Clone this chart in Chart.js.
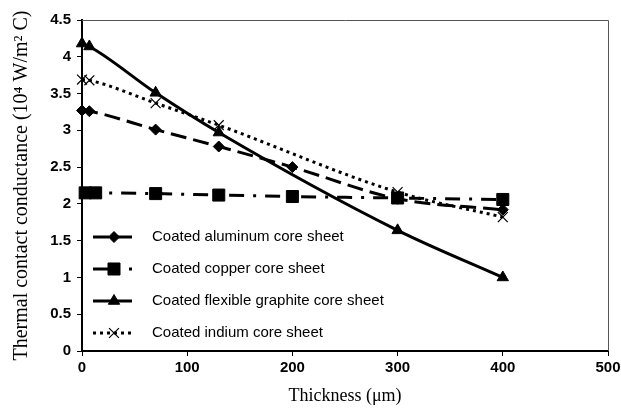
<!DOCTYPE html>
<html>
<head>
<meta charset="utf-8">
<script src="https://cdn.jsdelivr.net/npm/chart.js@4.4.0/dist/chart.umd.min.js"></script>
<style>
  html, body { margin: 0; padding: 0; background: #fff; }
  #wrap { width: 621px; height: 413px; position: relative; }
</style>
</head>
<body>
<div id="wrap"><canvas id="c" width="621" height="413"></canvas></div>
<script>
// ---- Data ----
const seriesNames = [
  'Coated aluminum core sheet',
  'Coated copper core sheet',
  'Coated flexible graphite core sheet',
  'Coated indium core sheet'
];
const xAluminum = [0, 7, 70, 130, 200, 300, 400];
const yAluminum = [3.27, 3.26, 3.01, 2.78, 2.50, 2.07, 1.92];
const xCopper   = [3, 13, 70, 130, 200, 300, 400];
const yCopper   = [2.15, 2.15, 2.14, 2.12, 2.10, 2.08, 2.06];
const xGraphite = [0, 7, 70, 130, 300, 400];
const yGraphite = [4.18, 4.14, 3.51, 2.97, 1.64, 1.00];
const xIndium   = [0, 7, 70, 130, 300, 400];
const yIndium   = [3.69, 3.68, 3.37, 3.07, 2.16, 1.82];
const xTickValues = [0, 100, 200, 300, 400, 500];
const yTickValues = [0, 0.5, 1, 1.5, 2, 2.5, 3, 3.5, 4, 4.5];
const xTitle = 'Thickness (\u03bcm)';
const yTitle = 'Thermal contact conductance (10\u2074 W/m\u00b2 C)';

function pts(xs, ys) { return xs.map((x, i) => ({ x: x, y: ys[i] })); }

const sansFont = '"Liberation Sans", Arial, Helvetica, sans-serif';
const serifFont = '"Liberation Serif", "Times New Roman", serif';

const datasets = [
  { label: seriesNames[0], data: pts(xAluminum, yAluminum), borderDash: [16, 7],
    pointStyle: 'rectRot', pointRadius: 5.5 },
  { label: seriesNames[1], data: pts(xCopper, yCopper), borderDash: [15, 9, 3, 9],
    pointStyle: 'rect', pointRadius: 8.5 },
  { label: seriesNames[2], data: pts(xGraphite, yGraphite), borderDash: [],
    pointStyle: 'triangle', pointRadius: 6.5 },
  { label: seriesNames[3], data: pts(xIndium, yIndium), borderDash: [3, 4],
    pointStyle: 'crossRot', pointRadius: 7, pointBorderWidth: 1.2 }
].map(d => Object.assign({
  borderColor: '#000', backgroundColor: '#000',
  pointBackgroundColor: '#000', pointBorderColor: '#000',
  borderWidth: 3, pointBorderWidth: 1, pointHoverRadius: 0,
  cubicInterpolationMode: 'monotone', clip: false, fill: false
}, d));

// Plot frame (top & right light border)
const framePlugin = {
  id: 'frame',
  beforeDatasetsDraw(chart) {
    const a = chart.chartArea, ctx = chart.ctx;
    ctx.save();
    ctx.strokeStyle = '#555';
    ctx.lineWidth = 1;
    ctx.beginPath();
    ctx.moveTo(a.left, a.top + 0.5);
    ctx.lineTo(a.right + 0.5, a.top + 0.5);
    ctx.lineTo(a.right + 0.5, a.bottom);
    ctx.stroke();
    ctx.restore();
  }
};

// Legend drawn inside plot area, lower-left
const innerLegend = {
  id: 'innerLegend',
  afterDatasetsDraw(chart) {
    const a = chart.chartArea, ctx = chart.ctx;
    const x0 = a.left + 11, x1 = a.left + 50, xm = a.left + 32, xt = a.left + 70;
    const yStart = a.top + 217, dy = 32;
    chart.data.datasets.forEach((ds, i) => {
      const y = yStart + i * dy;
      ctx.save();
      ctx.strokeStyle = '#000';
      ctx.lineWidth = ds.borderWidth;
      ctx.setLineDash(ds.borderDash || []);
      ctx.beginPath();
      ctx.moveTo(x0, y);
      ctx.lineTo(x1, y);
      ctx.stroke();
      ctx.setLineDash([]);
      ctx.fillStyle = '#000';
      ctx.lineWidth = ds.pointBorderWidth;
      Chart.helpers.drawPoint(ctx, { pointStyle: ds.pointStyle, radius: ds.pointRadius, rotation: 0, borderWidth: ds.pointBorderWidth }, xm, y);
      ctx.font = '15px ' + sansFont;
      ctx.textBaseline = 'middle';
      ctx.textAlign = 'left';
      ctx.fillText(ds.label, xt, y);
      ctx.restore();
    });
  }
};

function fixBox(prop, size) {
  return function (scale) {
    scale[prop] = size;
    scale.paddingLeft = 0; scale.paddingRight = 0;
    scale.paddingTop = 0; scale.paddingBottom = 0;
  };
}

new Chart(document.getElementById('c'), {
  type: 'line',
  data: { datasets: datasets },
  plugins: [framePlugin, innerLegend],
  options: {
    responsive: false,
    animation: false,
    events: [],
    layout: { padding: { top: 20, right: 13, left: 0, bottom: 0 } },
    plugins: { legend: { display: false }, tooltip: { enabled: false } },
    scales: {
      x: {
        type: 'linear', min: 0, max: 500,
        afterBuildTicks: s => { s.ticks = xTickValues.map(v => ({ value: v })); },
        afterFit: fixBox('height', 62),
        border: { display: true, color: '#000', width: 2 },
        grid: { display: true, drawOnChartArea: false, drawTicks: true, tickLength: 5, color: '#000', lineWidth: 1 },
        ticks: { color: '#000', padding: 3, maxRotation: 0, callback: v => String(v),
                 font: { family: sansFont, size: 15, weight: 'bold' } },
        title: { display: true, text: xTitle, color: '#000', padding: { top: 0, bottom: 6 },
                 font: { family: serifFont, size: 18, weight: 'normal' } }
      },
      y: {
        type: 'linear', min: 0, max: 4.5,
        afterBuildTicks: s => { s.ticks = yTickValues.map(v => ({ value: v })); },
        afterFit: fixBox('width', 82),
        border: { display: true, color: '#000', width: 2 },
        grid: { display: true, drawOnChartArea: false, drawTicks: true, tickLength: 5, color: '#000', lineWidth: 1 },
        ticks: { color: '#000', padding: 6, callback: v => String(v),
                 font: { family: sansFont, size: 15, weight: 'bold' } },
        title: { display: true, text: yTitle, color: '#000', padding: { top: 10, bottom: 0 },
                 font: { family: serifFont, size: 20, weight: 'normal' } }
      }
    }
  }
});
</script>
</body>
</html>
